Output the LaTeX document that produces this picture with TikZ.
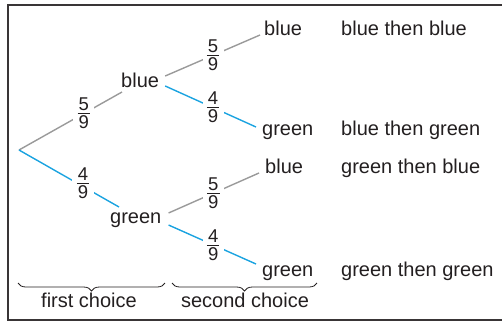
\documentclass[tikz,border=0pt]{standalone}
\usepackage{fontspec}
\setmainfont{Liberation Sans}
\usetikzlibrary{decorations.pathreplacing}
\definecolor{ink}{HTML}{231F20}
\definecolor{greyline}{HTML}{9A9A9A}
\definecolor{cyanline}{HTML}{1BA3E0}
\newcommand\myfrac[2]{\vbox{\hbox to 12.5pt{\hss#1\hss}\kern2.5pt\hrule height 0.8pt\kern2pt\hbox to 12.5pt{\hss#2\hss}}}
\begin{document}
\begin{tikzpicture}[x=1pt,y=-1pt,
  lbl/.style={inner sep=0pt,anchor=base west,text=ink,font=\fontsize{20}{23}\selectfont},
  fracbox/.style={fill=white,inner xsep=4.3pt,inner ysep=1pt,text=ink,font=\fontsize{18.5}{19}\selectfont},
  gline/.style={draw=greyline,line width=1.4pt},
  cline/.style={draw=cyanline,line width=1.4pt},
  bracestyle/.style={draw=ink,line width=0.8pt,decorate,decoration={brace,mirror,amplitude=8pt}},
  frame/.style={draw=ink!90,line width=1.5pt}]
\useasboundingbox (0,0) rectangle (502,322);
\draw[frame] (8,5) rectangle (512,320);
\coordinate (root) at (19,150);
\node[lbl] (b1) at (121,87) {blue};
\node[lbl] (g1) at (110,223) {green};
\node[lbl] (b2) at (264,35) {blue};
\node[lbl] (g2) at (262,135) {green};
\node[lbl] (b3) at (265,173) {blue};
\node[lbl] (g3) at (262,276) {green};
\node[lbl] (o1) at (341,35) {blue then blue};
\node[lbl] (o2) at (341,135) {blue then green};
\node[lbl] (o3) at (341,173) {green then blue};
\node[lbl] (o4) at (341,276) {green then green};
\draw[gline] (root) -- node[fracbox,pos=0.63] (f1) {\myfrac{5}{9}} ([shift={(1,5)}]b1.base west);
\draw[cline] (root) -- node[fracbox,pos=0.64,yshift=3pt] (f4) {\myfrac{4}{9}} ([shift={(9,-16)}]g1.base west);
\draw[gline] ([shift={(6,-11)}]b1.base east) -- node[fracbox,pos=0.505] (f2) {\myfrac{5}{9}} ([shift={(-4,0)}]b2.base west);
\draw[cline] ([shift={(6,-1)}]b1.base east) -- node[fracbox,pos=0.527] (f3) {\myfrac{4}{9}} ([shift={(-6,-8)}]g2.base west);
\draw[gline] ([shift={(7,-10)}]g1.base east) -- node[fracbox,pos=0.495] (f5) {\myfrac{5}{9}} ([shift={(-6,0)}]b3.base west);
\draw[cline] ([shift={(7,2)}]g1.base east) -- node[fracbox,pos=0.511] (f6) {\myfrac{4}{9}} ([shift={(-6,-12)}]g3.base west);
\coordinate (br1a) at (18,283);
\coordinate (br1b) at (165,283);
\coordinate (br2a) at (172,283);
\coordinate (br2b) at (317,283);
\draw[bracestyle] (br1a) -- (br1b);
\draw[bracestyle] (br2a) -- (br2b);
\node[lbl,anchor=base] (c1) at (89,307) {first choice};
\node[lbl,anchor=base] (c2) at (245,307) {second choice};
\end{tikzpicture}
\end{document}
